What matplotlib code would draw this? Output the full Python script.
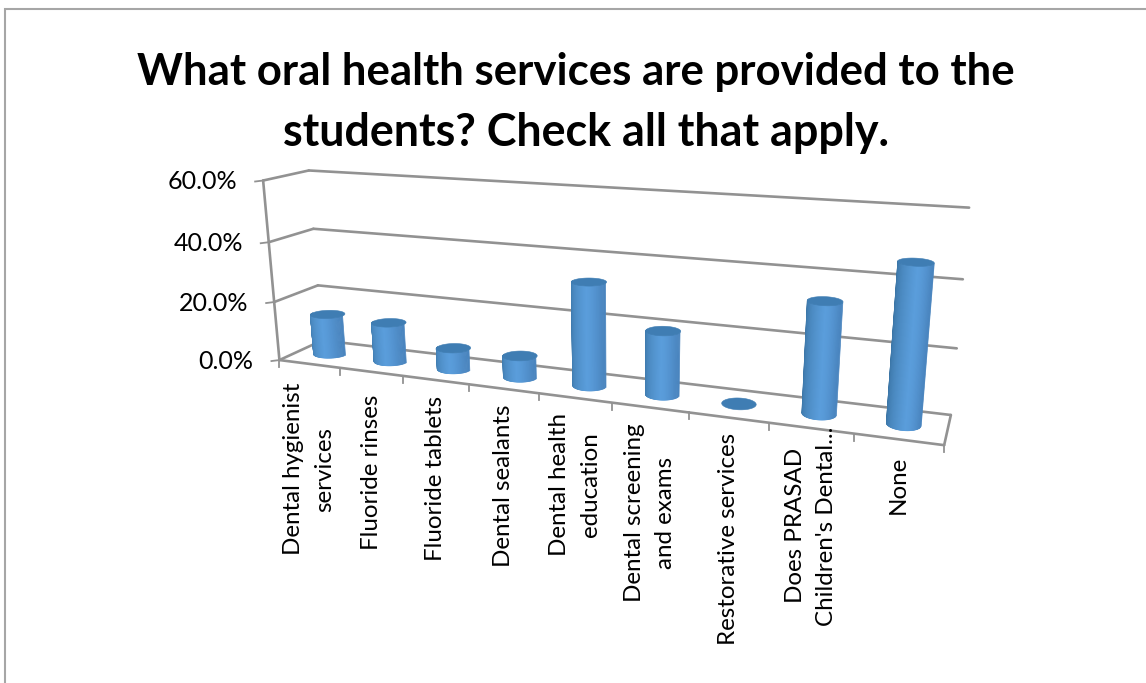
import numpy as np
import matplotlib
matplotlib.use("Agg")
import matplotlib.pyplot as plt
from matplotlib.colors import to_rgb

plt.rcParams['font.family'] = ['Lato', 'DejaVu Sans']

title_lines = ["What oral health services are provided to the", "students? Check all that apply."]
categories = ["Dental hygienist\nservices", "Fluoride rinses", "Fluoride tablets",
              "Dental sealants", "Dental health\neducation", "Dental screening\nand exams",
              "Restorative services", "Does PRASAD\nChildren's Dental...", "None"]
values = [13.8, 13.2, 7.0, 7.0, 33.0, 20.0, 0.0, 33.5, 46.5]
y_ticks = [0, 20, 40, 60]
y_tick_labels = ["0.0%", "20.0%", "40.0%", "60.0%"]

# gap between the front edge of the floor and the top of each category label
label_drop = [19, 23, 16, 16, 15, 16, 15, -2, 16]

# Calibration of the 3D box: (category pos, depth, value) -> pixel
box_3d = [(0, 0, 0), (9, 0, 0), (0, 1, 0), (9, 1, 0), (0, 0, 60), (0, 1, 60), (9, 1, 60),
          (0, 1, 20), (0, 1, 40), (9, 1, 20), (9, 1, 40), (0, 0, 20), (0, 0, 40),
          (1, 0, 0), (2, 0, 0), (3, 0, 0), (4, 0, 0), (5, 0, 0), (6, 0, 0), (7, 0, 0), (8, 0, 0)]
box_px = [(280, 359), (944, 444), (322, 340), (951, 414), (263, 180), (309, 171), (969, 208),
          (318, 286), (313, 229), (957, 348), (963, 279), (274, 301), (269, 242),
          (340, 368), (403, 377), (469, 385), (539, 393), (612, 403), (689, 413), (769, 423), (854, 435)]


def fit_projection(pts, px):
    A, b = [], []
    for (u, v, w), (x, y) in zip(pts, px):
        A.append([u, v, w, 1, 0, 0, 0, 0, -x * u, -x * v, -x * w])
        A.append([0, 0, 0, 0, u, v, w, 1, -y * u, -y * v, -y * w])
        b += [x, y]
    p = np.linalg.lstsq(np.array(A, float), np.array(b, float), rcond=None)[0]
    return np.append(p, 1.0).reshape(3, 4)


P = fit_projection(box_3d, box_px)


def proj(u, v, w):
    u, v, w = np.broadcast_arrays(np.asarray(u, float), np.asarray(v, float), np.asarray(w, float))
    q = P @ np.stack([u, v, w, np.ones_like(u)])
    return q[0] / q[2], q[1] / q[2]


fig = plt.figure(figsize=(11.46, 6.83), dpi=100)
ax = fig.add_axes([0, 0, 1, 1])
ax.set_xlim(0, 1146)
ax.set_ylim(683, 0)
ax.axis("off")

# slide border
ax.plot([5, 5, 1146], [683, 9, 9], color="#a6a6a6", lw=1.5, solid_joinstyle="miter")

ax.text(576, 85, title_lines[0], ha="center", va="baseline", fontsize=31.5, fontweight="bold", color="black")
ax.text(586, 146, title_lines[1], ha="center", va="baseline", fontsize=32.3, fontweight="bold", color="black")

grid = "#929292"


def seg(a, b, lw=1.9):
    x, y = proj(*np.array([a, b]).T)
    ax.plot(x, y, color=grid, lw=lw, solid_capstyle="round", zorder=2)


for t, lab in zip(y_ticks, y_tick_labels):
    seg((0, 0, t), (0, 1, t))
    seg((0, 1, t), (9, 1, t))
    x, y = proj(0, 0, t)
    ax.plot([x - 8, x], [y + 1, y], color=grid, lw=1.3, zorder=2)
    ax.text(x - 26, y + 1, lab, ha="right", va="center", fontsize=18, color="black")

seg((0, 0, 0), (0, 0, 60))
seg((0, 0, 0), (9, 0, 0))
seg((9, 0, 0), (9, 1, 0))

# category ticks and labels
for i in range(10):
    x, y = proj(i, 0, 0)
    ax.plot([x, x], [y, y + 7], color=grid, lw=1.3, zorder=2)

for i, lab in enumerate(categories):
    x, y = proj(i + 0.5, 0, 0)
    ax.text(x, y + label_drop[i], lab, rotation=90, ha="center", va="top", ma="center",
            fontsize=17.4, color="black", linespacing=1.6, zorder=3)

# cylinders
dark = np.array(to_rgb("#37709f"))
light = np.array(to_rgb("#5a9ddb"))
edge = np.array(to_rgb("#4a85bf"))
top_col = "#3f7db3"
rv = 0.21
# strips evenly spaced across the visible width of the bar, left to right
th = 2 * np.pi - np.arccos(np.linspace(-1, 1, 71))
ring = np.linspace(0, 2 * np.pi, 81)


def shade(s):
    if s < 0.6:
        return dark + (light - dark) * (s / 0.6) ** 0.55
    return light + (edge - light) * ((s - 0.6) / 0.4) ** 1.8


for i, val in enumerate(values):
    cu = i + 0.5
    # the bars hardly widen towards the front right, so the radius is tapered
    spacing = proj(i + 1, 0, 0)[0] - proj(i, 0, 0)[0]
    ru = (15 + 3 * i / 8) / spacing
    bx, by = proj(cu + ru * np.cos(th), 0.5 + rv * np.sin(th), 0)
    tx, ty = proj(cu + ru * np.cos(th), 0.5 + rv * np.sin(th), val)
    z = 5 + i
    if val > 0:
        for k in range(len(th) - 1):
            s = k / (len(th) - 2)
            c = shade(s)
            ax.fill([bx[k], bx[k + 1], tx[k + 1], tx[k]], [by[k], by[k + 1], ty[k + 1], ty[k]],
                    color=c, lw=0.5, zorder=z)
    ex, ey = proj(cu + ru * np.cos(ring), 0.5 + rv * np.sin(ring), val)
    ax.fill(ex, ey, color=top_col, lw=0.4, zorder=z + 0.5)

fig.savefig("out.png", dpi=100, facecolor="white")
